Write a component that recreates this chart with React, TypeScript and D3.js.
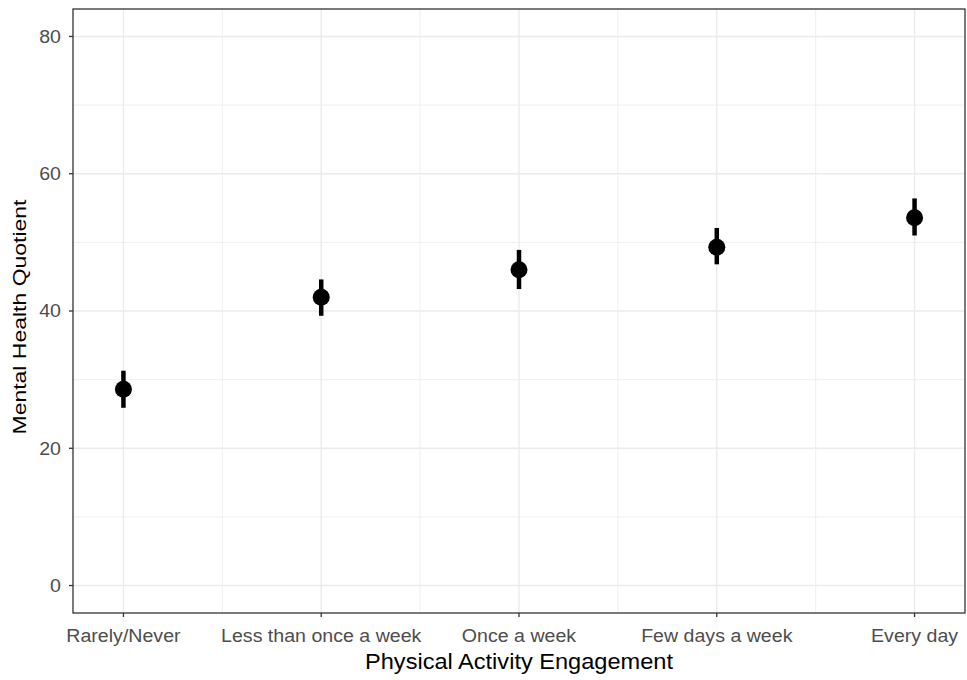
import React from "react";
import * as d3 from "d3";

const categories = ["Rarely/Never", "Less than once a week", "Once a week", "Few days a week", "Every day"];
const means = [28.6, 42.0, 46.0, 49.3, 53.6];
const lower = [25.9, 39.3, 43.2, 46.8, 51.0];
const upper = [31.3, 44.6, 48.9, 52.1, 56.4];
const yTicks = [0, 20, 40, 60, 80];
const yMinor = [10, 30, 50, 70];

const W = 967;
const H = 680;
const left = 73;
const right = 965;
const top = 9;
const bottom = 613;

const App = () => {
  const x = d3.scaleLinear().domain([0.745, 5.255]).range([left, right]);
  const y = d3.scaleLinear().domain([-4, 84]).range([bottom, top]);
  const xMinor = d3.range(1.5, 5, 1);
  const font = "'Liberation Sans', Arial, sans-serif";
  const sx = 1.12;

  return (
    <svg width={W} height={H} style={{ position: "absolute", left: 0, top: 0 }}>
      <rect width={W} height={H} fill="#fff" />
      {yMinor.map(v => (
        <line key={"ym" + v} x1={left} x2={right} y1={y(v)} y2={y(v)} stroke="#EBEBEB" strokeWidth={0.8} />
      ))}
      {xMinor.map(v => (
        <line key={"xm" + v} x1={x(v)} x2={x(v)} y1={top} y2={bottom} stroke="#EBEBEB" strokeWidth={0.8} />
      ))}
      {yTicks.map(v => (
        <line key={"yg" + v} x1={left} x2={right} y1={y(v)} y2={y(v)} stroke="#EBEBEB" strokeWidth={1.4} />
      ))}
      {categories.map((c, i) => (
        <line key={"xg" + c} x1={x(i + 1)} x2={x(i + 1)} y1={top} y2={bottom} stroke="#EBEBEB" strokeWidth={1.4} />
      ))}

      {categories.map((c, i) => (
        <g key={"pt" + c}>
          <line x1={x(i + 1)} x2={x(i + 1)} y1={y(lower[i])} y2={y(upper[i])} stroke="#000" strokeWidth={4.5} />
          <circle cx={x(i + 1)} cy={y(means[i])} r={8.5} fill="#000" />
        </g>
      ))}

      <rect x={left} y={top} width={right - left} height={bottom - top} fill="none" stroke="#333" strokeWidth={1.3} />

      {yTicks.map(v => (
        <g key={"yt" + v}>
          <line x1={left - 4} x2={left} y1={y(v)} y2={y(v)} stroke="#333" strokeWidth={1.3} />
          <text
            transform={`translate(${left - 12} ${y(v)}) scale(${sx} 1)`}
            dy="0.36em"
            textAnchor="end"
            fontSize={17.5}
            fill="#4D4D4D"
            fontFamily={font}
          >
            {v}
          </text>
        </g>
      ))}
      {categories.map((c, i) => (
        <g key={"xt" + c}>
          <line x1={x(i + 1)} x2={x(i + 1)} y1={bottom} y2={bottom + 4} stroke="#333" strokeWidth={1.3} />
          <text
            transform={`translate(${x(i + 1)} 642) scale(${sx} 1)`}
            textAnchor="middle"
            fontSize={17.5}
            fill="#4D4D4D"
            fontFamily={font}
          >
            {c}
          </text>
        </g>
      ))}

      <text
        x={(left + right) / 2}
        y={669}
        textAnchor="middle"
        fontSize={21.5}
        fill="#000"
        fontFamily={font}
        textLength={308}
        lengthAdjust="spacingAndGlyphs"
      >
        Physical Activity Engagement
      </text>
      <text
        transform={`translate(26 317) rotate(-90)`}
        textAnchor="middle"
        fontSize={19}
        fill="#000"
        fontFamily={font}
        textLength={235}
        lengthAdjust="spacingAndGlyphs"
      >
        Mental Health Quotient
      </text>
    </svg>
  );
};

export default App;
